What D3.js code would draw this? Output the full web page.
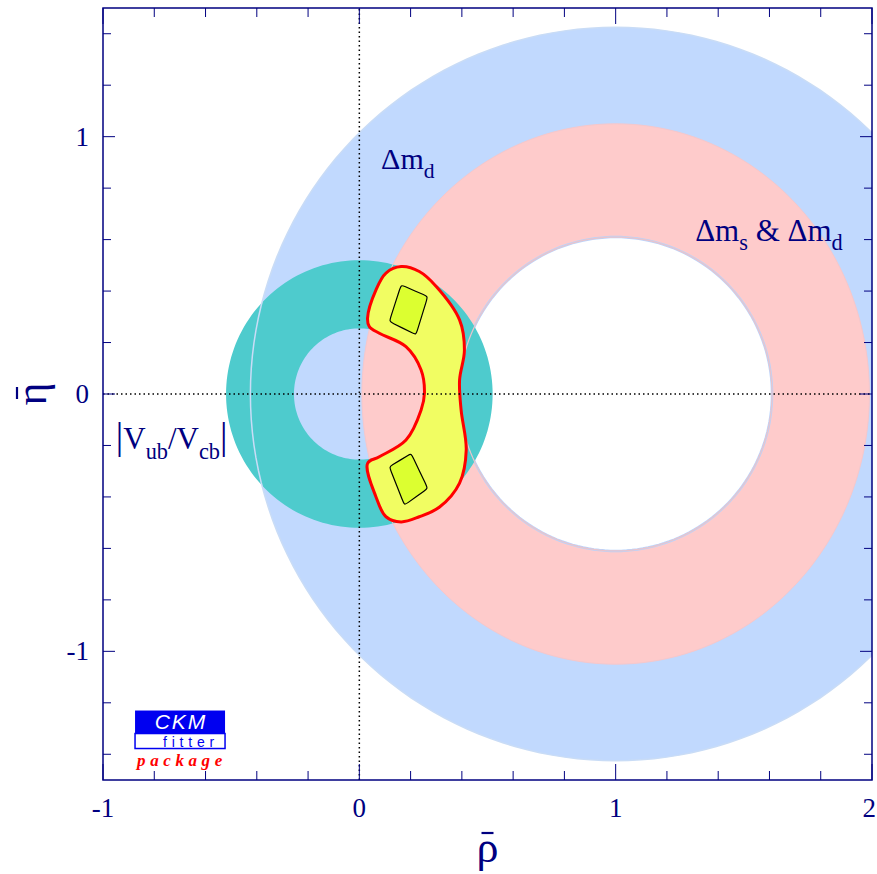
<!DOCTYPE html>
<html>
<head>
<meta charset="utf-8">
<script src="https://cdn.jsdelivr.net/npm/d3@7"></script>
<style>
  body { margin: 0; background: #fff; }
  svg text { fill: #000080; }
</style>
</head>
<body>
<div id="vis"></div>
<script>
// CKM unitarity triangle plane: rho-bar / eta-bar
const WIDTH = 877;
const HEIGHT = 874;
const MARGIN = { top: 8, right: 5, bottom: 94, left: 103 };
const SERIF = "Liberation Serif, Times New Roman, serif";
const SANS = "Liberation Sans, Arial, sans-serif";

const X_DOMAIN = [-1, 2];
const Y_DOMAIN = [-1.5, 1.5];
const xTicks = [-1, 0, 1, 2];
const yTicks = [-1, 0, 1];

// constraint bands: centre and [inner, outer] radii (rho units / eta units)
const dmdCenter = [1, 0];
const dmdRadii = [0.61, 1.425];
const dmsCenter = [1, 0];
const dmsRadiiRho = [0.61, 0.99];
const dmsRadiiEta = [0.61, 1.05];
const vubCenter = [0, 0];
const vubRadii = [0.255, 0.52];

// global fit, 95% CL contour
const fitRho = [0.032, 0.065, 0.104, 0.163, 0.234, 0.300, 0.391, 0.410, 0.391, 0.397, 0.417, 0.391, 0.313,
  0.234, 0.163, 0.104, 0.065, 0.032, 0.078, 0.182, 0.241, 0.254, 0.241, 0.182, 0.078, 0.039];
const fitEta = [0.295, 0.405, 0.470, 0.495, 0.476, 0.418, 0.288, 0.171, 0.054, -0.062, -0.218, -0.346, -0.439,
  -0.477, -0.497, -0.477, -0.400, -0.270, -0.244, -0.179, -0.062, 0.003, 0.093, 0.184, 0.236, 0.262];

// 68% CL islands
const islandTopRho = [0.163, 0.267, 0.221, 0.117];
const islandTopEta = [0.424, 0.379, 0.230, 0.282];
const islandBotRho = [0.202, 0.267, 0.176, 0.117];
const islandBotEta = [-0.231, -0.367, -0.432, -0.283];

const SVG = d3.select("#vis").append("svg")
  .attr("width", WIDTH).attr("height", HEIGHT)
  .style("font-family", SERIF);

const x = d3.scaleLinear().domain(X_DOMAIN).range([MARGIN.left, WIDTH - MARGIN.right]);
const y = d3.scaleLinear().domain(Y_DOMAIN).range([HEIGHT - MARGIN.bottom, MARGIN.top]);

SVG.append("defs").append("clipPath").attr("id", "plot-clip")
  .append("rect")
  .attr("x", x(X_DOMAIN[0])).attr("y", y(Y_DOMAIN[1]))
  .attr("width", x(X_DOMAIN[1]) - x(X_DOMAIN[0]))
  .attr("height", y(Y_DOMAIN[0]) - y(Y_DOMAIN[1]));

const plot = SVG.append("g").attr("clip-path", "url(#plot-clip)");

const line = d3.line();
const angles = d3.range(0, 360, 2).map(a => a * Math.PI / 180);

// ellipse outline in data space -> pixel path
function ellipse(c, rx, ry) {
  return line(angles.map(a => [x(c[0] + rx * Math.cos(a)), y(c[1] + ry * Math.sin(a))])) + "Z";
}

// Delta m_d band (blue)
plot.append("path")
  .attr("d", ellipse(dmdCenter, dmdRadii[1], dmdRadii[1]) + ellipse(dmdCenter, dmdRadii[0], dmdRadii[0]))
  .attr("fill", "#c1d9fe").attr("fill-rule", "evenodd");

// Delta m_s & Delta m_d band (pink)
plot.append("path")
  .attr("d", ellipse(dmsCenter, dmsRadiiRho[1], dmsRadiiEta[1]) + ellipse(dmsCenter, dmsRadiiRho[0], dmsRadiiEta[0]))
  .attr("fill", "#fecbcb").attr("fill-rule", "evenodd");

// edge of the hole
plot.append("path")
  .attr("d", ellipse(dmsCenter, dmsRadiiRho[0], dmsRadiiEta[0]))
  .attr("fill", "none").attr("stroke", "#b9d4fc").attr("stroke-width", 2.5);

// |Vub/Vcb| ring (teal)
plot.append("path")
  .attr("d", ellipse(vubCenter, vubRadii[1], vubRadii[1]) + ellipse(vubCenter, vubRadii[0], vubRadii[0]))
  .attr("fill", "#4ecbcd").attr("fill-rule", "evenodd");

// band edges showing through the ring
plot.append("path")
  .attr("d", ellipse(dmdCenter, dmdRadii[1], dmdRadii[1]))
  .attr("fill", "none").attr("stroke", "#c9dcf6").attr("stroke-width", 1.5);
plot.append("path")
  .attr("d", ellipse(dmsCenter, dmsRadiiRho[0], dmsRadiiEta[0]))
  .attr("fill", "none").attr("stroke", "#e9c4cc").attr("stroke-width", 1.2);
plot.append("path")
  .attr("d", ellipse(dmsCenter, dmsRadiiRho[1], dmsRadiiEta[1]))
  .attr("fill", "none").attr("stroke", "#f5c8cc").attr("stroke-width", 1);

// global fit contour
const fitPts = fitRho.map((r, i) => [x(r), y(fitEta[i])]);
plot.append("path")
  .attr("d", d3.line().curve(d3.curveCatmullRomClosed)(fitPts))
  .attr("fill", "#f1fd62")
  .attr("stroke", "#ff0000").attr("stroke-width", 3).attr("stroke-linejoin", "round");

const island = d3.line().curve(d3.curveBasisClosed);
[[islandTopRho, islandTopEta], [islandBotRho, islandBotEta]].forEach(([rs, es]) => {
  const pts = rs.flatMap((r, i) => [[x(r), y(es[i])], [x(r), y(es[i])]]);
  plot.append("path")
    .attr("d", island(pts))
    .attr("fill", "#dcff30")
    .attr("stroke", "#000").attr("stroke-width", 1.2);
});

// dotted zero lines
plot.append("line")
  .attr("x1", x(0)).attr("x2", x(0)).attr("y1", y(Y_DOMAIN[0])).attr("y2", y(Y_DOMAIN[1]))
  .attr("stroke", "#000").attr("stroke-width", 1.5).attr("stroke-dasharray", "1.5,3");
plot.append("line")
  .attr("x1", x(X_DOMAIN[0])).attr("x2", x(X_DOMAIN[1])).attr("y1", y(0)).attr("y2", y(0))
  .attr("stroke", "#000").attr("stroke-width", 1.5).attr("stroke-dasharray", "1.5,3");

// band labels: parts are [text, isSubscript, fontScale]
function label(px, py, parts, size) {
  const t = SVG.append("text").attr("x", px).attr("y", py);
  let shifted = false;
  parts.forEach(([txt, sub, scale]) => {
    const ts = t.append("tspan").text(txt);
    let dy = 0;
    if (sub && !shifted) { dy = size * 0.3; shifted = true; }
    if (!sub && shifted) { dy = -size * 0.3; shifted = false; }
    ts.attr("dy", dy).attr("font-size", sub ? size * 0.72 : size * (scale || 1));
  });
  return t;
}
label(x(0.085), y(0.875), [["Δm"], ["d", true]], 30);
label(x(1.31), y(0.595), [["Δm"], ["s", true], [" & Δm"], ["d", true]], 31);
label(x(-0.95), y(-0.215), [["|", false, 1.2], ["V"], ["ub", true], ["/V"], ["cb", true], ["|", false, 1.2]], 31);

// frame and ticks
const frame = SVG.append("g").attr("stroke", "#000080").attr("fill", "none");
frame.append("rect")
  .attr("x", x(X_DOMAIN[0])).attr("y", y(Y_DOMAIN[1]))
  .attr("width", x(X_DOMAIN[1]) - x(X_DOMAIN[0]))
  .attr("height", y(Y_DOMAIN[0]) - y(Y_DOMAIN[1]))
  .attr("stroke-width", 1.5);

const xMinor = d3.range(-1, 2.001, 0.2).map(v => +v.toFixed(1));
const yMinor = d3.range(-1.4, 1.401, 0.2).map(v => +v.toFixed(1));
const isMajor = v => Math.abs(v - Math.round(v)) < 1e-6;

xMinor.forEach(v => {
  const len = isMajor(v) ? 16 : 9;
  frame.append("line").attr("x1", x(v)).attr("x2", x(v))
    .attr("y1", y(Y_DOMAIN[0])).attr("y2", y(Y_DOMAIN[0]) - len).attr("stroke-width", 1);
  frame.append("line").attr("x1", x(v)).attr("x2", x(v))
    .attr("y1", y(Y_DOMAIN[1])).attr("y2", y(Y_DOMAIN[1]) + len).attr("stroke-width", 1);
});
yMinor.forEach(v => {
  const len = isMajor(v) ? 12 : 8;
  frame.append("line").attr("y1", y(v)).attr("y2", y(v))
    .attr("x1", x(X_DOMAIN[0])).attr("x2", x(X_DOMAIN[0]) + len).attr("stroke-width", 1);
  frame.append("line").attr("y1", y(v)).attr("y2", y(v))
    .attr("x1", x(X_DOMAIN[1])).attr("x2", x(X_DOMAIN[1]) - len).attr("stroke-width", 1);
});

SVG.selectAll(".xlab").data(xTicks).enter().append("text")
  .attr("class", "xlab")
  .attr("x", d => d === X_DOMAIN[1] ? WIDTH - 1 : x(d)).attr("y", y(Y_DOMAIN[0]) + 37)
  .attr("text-anchor", d => d === X_DOMAIN[1] ? "end" : "middle").attr("font-size", 27)
  .text(d => d);
SVG.selectAll(".ylab").data(yTicks).enter().append("text")
  .attr("class", "ylab")
  .attr("x", x(X_DOMAIN[0]) - 14).attr("y", d => y(d) + 9)
  .attr("text-anchor", "end").attr("font-size", 27)
  .text(d => d);

// axis titles, bar drawn as a short stroke
const rhoX = x(0.5), rhoY = HEIGHT - 12;
SVG.append("text")
  .attr("x", rhoX).attr("y", rhoY)
  .attr("text-anchor", "middle").attr("font-size", 44)
  .text("ρ");
SVG.append("line")
  .attr("x1", rhoX - 6).attr("x2", rhoX + 6).attr("y1", rhoY - 29).attr("y2", rhoY - 29)
  .attr("stroke", "#000080").attr("stroke-width", 2.2);

const etaX = 46, etaY = y(0);
SVG.append("text")
  .attr("transform", `translate(${etaX}, ${etaY}) rotate(-90)`)
  .attr("text-anchor", "middle").attr("font-size", 44)
  .text("η");
SVG.append("line")
  .attr("x1", etaX - 29).attr("x2", etaX - 29).attr("y1", etaY - 7).attr("y2", etaY + 5)
  .attr("stroke", "#000080").attr("stroke-width", 2.2);

// CKMfitter logo
const logo = SVG.append("g").attr("transform", `translate(${x(-0.875)}, ${y(-1.23)})`);
logo.append("rect").attr("width", 90).attr("height", 23).attr("fill", "#0000f0");
logo.append("text").attr("x", 46).attr("y", 18).attr("text-anchor", "middle")
  .style("font-family", SANS).attr("font-style", "italic")
  .attr("font-size", 21).attr("letter-spacing", 2).style("fill", "#fff").text("CKM");
logo.append("rect").attr("y", 23).attr("width", 90).attr("height", 15)
  .attr("fill", "#fff").attr("stroke", "#0000f0").attr("stroke-width", 1.5);
logo.append("text").attr("x", 84).attr("y", 36).attr("text-anchor", "end")
  .style("font-family", SANS)
  .attr("font-size", 14).attr("letter-spacing", 4.8).style("fill", "#0000f0").text("fitter");
logo.append("text").attr("x", 2).attr("y", 55)
  .attr("font-style", "italic").attr("font-weight", "bold")
  .attr("font-size", 17).attr("letter-spacing", 4.6).style("fill", "#ff0000").text("package");
</script>
</body>
</html>
